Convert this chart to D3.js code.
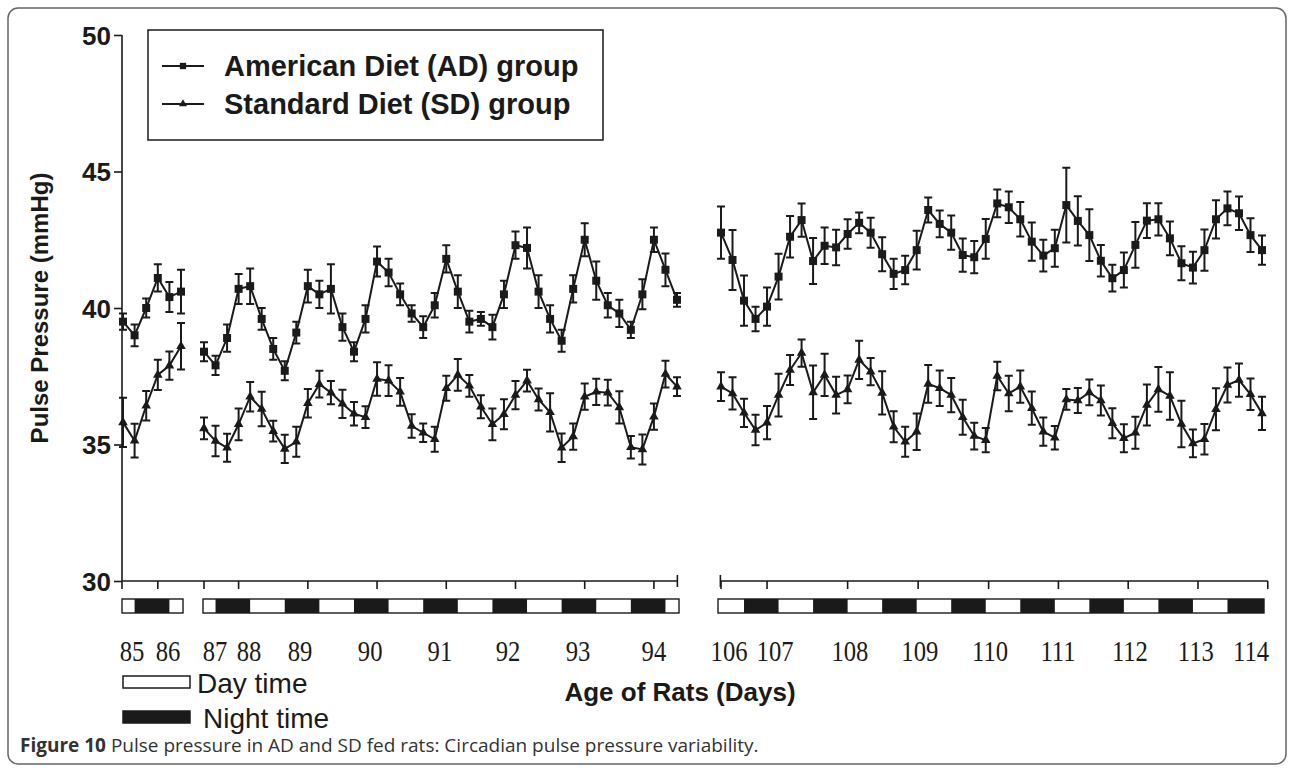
<!DOCTYPE html>
<html lang="en">
<head>
<meta charset="UTF-8">
<title>Pulse pressure in AD and SD fed rats</title>
<script src="https://d3js.org/d3.v7.min.js"></script>
<style>
    body { margin: 0; background: #fff; }
    svg { display: block; }
    .ylab, .ytitle, .xtitle, .legend text { font-family: "Liberation Sans", Arial, sans-serif; font-weight: bold; fill: #1a1a1a; }
    .daylab { font-family: "Liberation Serif", "Times New Roman", serif; fill: #1a1a1a; }
    .keytext { font-family: "Liberation Sans", Arial, sans-serif; fill: #1a1a1a; }
    .caption { font-family: "Open Sans", "Liberation Sans", sans-serif; font-size: 19px; fill: #333; }
</style>
</head>
<body>
<svg width="1295" height="778"></svg>
<script>
// every series is sampled each 4 h; segment start = [day, hour]
const segStarts = [[85, 14], [87, 14], [106, 10]];
const stepHours = 4;

const adValues1 = [39.5, 39.0, 40.0, 41.1, 40.4, 40.6];
const adErrors1 = [0.3, 0.4, 0.35, 0.5, 0.55, 0.8];
const sdValues1 = [35.81, 35.14, 36.42, 37.55, 37.89, 38.6];
const sdErrors1 = [0.9, 0.62, 0.54, 0.55, 0.52, 0.85];

const adValues2 = [38.4, 37.9, 38.9, 40.7, 40.8, 39.6, 38.5, 37.7, 39.1, 40.8, 40.5, 40.7, 39.3, 38.4,
    39.6, 41.7, 41.3, 40.5, 39.8, 39.3, 40.1, 41.8, 40.6, 39.5, 39.6, 39.3, 40.5, 42.3,
    42.2, 40.6, 39.6, 38.8, 40.7, 42.5, 41.0, 40.1, 39.8, 39.2, 40.5, 42.5, 41.4, 40.3];
const adErrors2 = [0.35, 0.35, 0.5, 0.55, 0.65, 0.4, 0.4, 0.35, 0.4, 0.6, 0.5, 0.9, 0.5, 0.35,
    0.5, 0.55, 0.5, 0.4, 0.3, 0.4, 0.45, 0.5, 0.6, 0.4, 0.25, 0.45, 0.5, 0.5,
    0.75, 0.6, 0.5, 0.4, 0.5, 0.6, 0.7, 0.45, 0.5, 0.3, 0.55, 0.45, 0.6, 0.25];
const sdValues2 = [35.59, 35.13, 34.88, 35.74, 36.75, 36.30, 35.49, 34.84, 35.10, 36.51, 37.21, 36.90, 36.49, 36.13,
    36.0, 37.40, 37.34, 36.93, 35.68, 35.43, 35.19, 37.06, 37.55, 37.15, 36.38, 35.74, 36.11, 36.81,
    37.34, 36.65, 36.18, 34.88, 35.29, 36.75, 36.93, 36.90, 36.36, 34.90, 34.82, 36.02, 37.58, 37.12];
const sdErrors2 = [0.40, 0.56, 0.51, 0.58, 0.54, 0.63, 0.38, 0.52, 0.55, 0.52, 0.49, 0.43, 0.52, 0.43,
    0.40, 0.61, 0.56, 0.51, 0.43, 0.34, 0.46, 0.46, 0.58, 0.40, 0.42, 0.58, 0.55, 0.52,
    0.40, 0.40, 0.70, 0.52, 0.48, 0.48, 0.48, 0.47, 0.59, 0.41, 0.55, 0.48, 0.49, 0.34];

const adValues3 = [42.76, 41.76, 40.27, 39.6, 40.05, 41.15, 42.61, 43.22, 41.72, 42.28, 42.22, 42.71,
    43.12, 42.76, 41.97, 41.25, 41.39, 42.12, 43.59, 43.08, 42.76, 41.94, 41.86, 42.53,
    43.83, 43.69, 43.25, 42.43, 41.92, 42.19, 43.77, 43.19, 42.67, 41.73, 41.09, 41.39,
    42.31, 43.20, 43.25, 42.55, 41.64, 41.48, 42.12, 43.25, 43.65, 43.47, 42.67, 42.12];
const adErrors3 = [0.96, 1.10, 0.92, 0.45, 0.70, 0.84, 0.76, 0.61, 0.84, 0.67, 0.65, 0.54,
    0.38, 0.55, 0.62, 0.55, 0.52, 0.71, 0.46, 0.49, 0.63, 0.61, 0.59, 0.73,
    0.51, 0.58, 0.63, 0.70, 0.58, 0.68, 1.37, 0.90, 0.95, 0.58, 0.49, 0.64,
    0.84, 0.64, 0.59, 0.62, 0.62, 0.58, 0.76, 0.70, 0.62, 0.61, 0.62, 0.54];
const sdValues3 = [37.12, 36.87, 36.16, 35.53, 35.80, 36.81, 37.73, 38.35, 36.91, 37.55, 36.81, 37.02,
    38.10, 37.67, 36.89, 35.65, 35.10, 35.47, 37.22, 37.06, 36.81, 36.00, 35.31, 35.16,
    37.51, 36.87, 37.12, 36.33, 35.47, 35.25, 36.65, 36.61, 36.91, 36.61, 35.78, 35.23,
    35.43, 36.45, 37.02, 36.78, 35.75, 35.04, 35.19, 36.29, 37.18, 37.36, 36.84, 36.14];
const sdErrors3 = [0.53, 0.59, 0.52, 0.56, 0.61, 0.78, 0.55, 0.50, 0.98, 0.77, 0.67, 0.51,
    0.70, 0.50, 0.79, 0.57, 0.55, 0.67, 0.69, 0.65, 0.63, 0.64, 0.49, 0.44,
    0.52, 0.65, 0.59, 0.61, 0.52, 0.43, 0.38, 0.46, 0.47, 0.55, 0.55, 0.51,
    0.59, 0.75, 0.82, 0.87, 0.85, 0.51, 0.56, 0.77, 0.64, 0.61, 0.58, 0.61];

const yTicks = [30, 35, 40, 45, 50];
// axis ticks and day labels, as [day, hour]
const axisATicks = [[86, 2], [87, 14], [88, 2], [89, 2], [90, 2], [91, 2], [92, 2], [93, 2], [94, 2]];
const axisBTicks = [[106, 10], [107, 2], [108, 6], [109, 6.5], [110, 7], [111, 7.25], [112, 7.5], [113, 7.75]];
const dayLabels = [85, 86, 87, 88, 89, 90, 91, 92, 93, 94, 106, 107, 108, 109, 110, 111, 112, 113, 114];
const dayLabelAt = [[85, 17.1], [86, 5.5], [87, 17.8], [88, 5.6], [88, 23.3], [89, 23.6], [90, 23.8], [91, 23.4], [92, 23.7], [94, 2],
    [106, 12.8], [107, 4.8], [108, 6.8], [109, 7.1], [110, 7.5], [111, 7.1], [112, 8.1], [113, 7], [114, 2.2]];
const lightsOn = 6, lightsOff = 18;

const seriesNames = ["American Diet (AD) group", "Standard Diet (SD) group"];
const keyNames = ["Day time", "Night time"];

const hrs = (d, h) => (d - 85) * 24 + h;

const adSegs = [[adValues1, adErrors1], [adValues2, adErrors2], [adValues3, adErrors3]];
const sdSegs = [[sdValues1, sdErrors1], [sdValues2, sdErrors2], [sdValues3, sdErrors3]];

function toPoints(segs) {
    return segs.map(([vals, errs], s) => vals.map((v, i) => ({
        t: hrs(segStarts[s][0], segStarts[s][1]) + i * stepHours, v: v, e: errs[i]
    })));
}
const adData = toPoints(adSegs);
const sdData = toPoints(sdSegs);
const segBounds = adData.map(seg => [seg[0].t, seg[seg.length - 1].t]);

const svg = d3.select("svg");

// frame round the figure
svg.append("rect")
    .attr("x", 8).attr("y", 8).attr("width", 1278).attr("height", 756)
    .attr("rx", 10).attr("fill", "none").attr("stroke", "#666").attr("stroke-width", 1.5);

// broken time axis: one linear piece per recording block
const x = d3.scaleLinear()
    .domain(segBounds.flat())
    .range([123, 181, 204, 677, 721, 1262]);
const y = d3.scaleLinear().domain([30, 50]).range([581, 35]);

const ink = "#1a1a1a";

// y axis
const yAxis = svg.append("g")
    .attr("transform", "translate(122,0)")
    .call(d3.axisLeft(y).tickValues(yTicks).tickSize(8).tickPadding(3));
yAxis.select(".domain").attr("d", `M0,${y(50)}V${y(30) + 8}`).attr("stroke", ink).attr("stroke-width", 1.6);
yAxis.selectAll(".tick line").attr("stroke", ink).attr("stroke-width", 1.6);
yAxis.selectAll(".tick text").attr("class", "ylab").attr("font-size", 26).attr("dy", "0.36em");

svg.append("text")
    .attr("class", "ytitle")
    .attr("transform", `translate(48,${y(40)}) rotate(-90)`)
    .attr("text-anchor", "middle")
    .attr("font-size", 24)
    .text("Pulse Pressure (mmHg)");

// x axis pieces
const x0 = y(30);
const axisA = [x(hrs(85, 14)) - 1, x(hrs(94, 12.5))];
const axisB = [x(hrs(106, 6)), x(hrs(114, 8))];
const axG = svg.append("g").attr("stroke", ink).attr("stroke-width", 1.6);
axG.append("line").attr("x1", axisA[0]).attr("x2", axisA[1]).attr("y1", x0).attr("y2", x0);
axG.append("line").attr("x1", axisA[1]).attr("x2", axisA[1]).attr("y1", x0 - 6).attr("y2", x0 + 6);
axG.append("line").attr("x1", axisB[0]).attr("x2", axisB[1]).attr("y1", x0).attr("y2", x0);
axG.append("line").attr("x1", axisB[0]).attr("x2", axisB[0]).attr("y1", x0 - 6).attr("y2", x0 + 6);
axG.append("line").attr("x1", axisB[1]).attr("x2", axisB[1]).attr("y1", x0).attr("y2", x0 + 8);
axG.selectAll(".tk").data(axisATicks.concat(axisBTicks)).join("line")
    .attr("x1", d => x(hrs(d[0], d[1]))).attr("x2", d => x(hrs(d[0], d[1])))
    .attr("y1", x0).attr("y2", x0 + 8);

// light/dark bars
const barY = 599, barH = 14;
const barG = svg.append("g");
segBounds.forEach(([t0, t1], i) => {
    const pad = i === 2 ? 3 : 1;
    barG.append("rect")
        .attr("x", x(t0) - pad).attr("y", barY)
        .attr("width", x(t1) - x(t0) + pad + 2).attr("height", barH)
        .attr("fill", "#fff").attr("stroke", ink).attr("stroke-width", 1.4);
    const nights = [];
    for (let d = 84; d <= 115; d++) {
        const a = Math.max(hrs(d, lightsOff), t0), b = Math.min(hrs(d + 1, lightsOn), t1);
        if (b > a) nights.push([a, b]);
    }
    barG.selectAll(null).data(nights).join("rect")
        .attr("x", d => x(d[0])).attr("y", barY)
        .attr("width", d => x(d[1]) - x(d[0]) + (d[1] === t1 ? 2 : 0)).attr("height", barH)
        .attr("fill", ink);
});

// day numbers, slightly condensed like the original serif face
svg.append("g").selectAll("text").data(dayLabels).join("text")
    .attr("class", "daylab")
    .attr("transform", (d, i) => `translate(${x(hrs(dayLabelAt[i][0], dayLabelAt[i][1]))},661) scale(0.85,1)`)
    .attr("text-anchor", "middle")
    .attr("font-size", 29)
    .text(d => d);

svg.append("text")
    .attr("class", "xtitle")
    .attr("x", 680).attr("y", 701)
    .attr("text-anchor", "middle")
    .attr("font-size", 26)
    .text("Age of Rats (Days)");

// series: line, error bars, markers
const line = d3.line().x(d => x(d.t)).y(d => y(d.v));
const tri = d3.symbol().type(d3.symbolTriangle).size(40);
const sq = d3.symbol().type(d3.symbolSquare).size(64);

function drawSeries(data, shape) {
    const g = svg.append("g");
    data.forEach(seg => {
        g.append("path").datum(seg).attr("d", line)
            .attr("fill", "none").attr("stroke", ink).attr("stroke-width", 2);
        const eb = g.append("g").attr("stroke", ink).attr("stroke-width", 2).attr("fill", "none");
        eb.selectAll("path").data(seg).join("path")
            .attr("d", d => {
                const cx = x(d.t), top = y(d.v + d.e), bot = y(d.v - d.e);
                return `M${cx},${top}V${bot}M${cx - 4},${top}H${cx + 4}M${cx - 4},${bot}H${cx + 4}`;
            });
        g.append("g").selectAll("path").data(seg).join("path")
            .attr("transform", d => `translate(${x(d.t)},${y(d.v)})`)
            .attr("d", shape).attr("fill", ink);
    });
}
drawSeries(adData, sq);
drawSeries(sdData, tri);

// legend
const leg = svg.append("g").attr("class", "legend");
leg.append("rect").attr("x", 148).attr("y", 30).attr("width", 455).attr("height", 110)
    .attr("fill", "#fff").attr("stroke", ink).attr("stroke-width", 1.5);
seriesNames.forEach((name, i) => {
    const ly = 66 + i * 38;
    leg.append("line").attr("x1", 162).attr("x2", 204).attr("y1", ly).attr("y2", ly)
        .attr("stroke", ink).attr("stroke-width", 2);
    leg.append("path").attr("transform", `translate(183,${ly})`)
        .attr("d", i === 0 ? d3.symbol().type(d3.symbolSquare).size(40) : d3.symbol().type(d3.symbolTriangle).size(28))
        .attr("fill", ink);
    leg.append("text").attr("x", 224).attr("y", ly + 10).attr("font-size", 29).text(name);
});

// light key
keyNames.forEach((name, i) => {
    const ky = 676 + i * 35;
    svg.append("rect").attr("x", 123).attr("y", ky).attr("width", 67).attr("height", 12)
        .attr("fill", i === 0 ? "#fff" : ink).attr("stroke", ink).attr("stroke-width", 1.5);
    svg.append("text").attr("class", "keytext").attr("x", i === 0 ? 197 : 203).attr("y", ky + 17)
        .attr("font-size", 28).text(name);
});

const cap = svg.append("text").attr("class", "caption").attr("x", 20).attr("y", 752);
cap.append("tspan").attr("font-weight", "bold").text("Figure 10 ");
cap.append("tspan").text("Pulse pressure in AD and SD fed rats: Circadian pulse pressure variability.");
</script>
</body>
</html>
